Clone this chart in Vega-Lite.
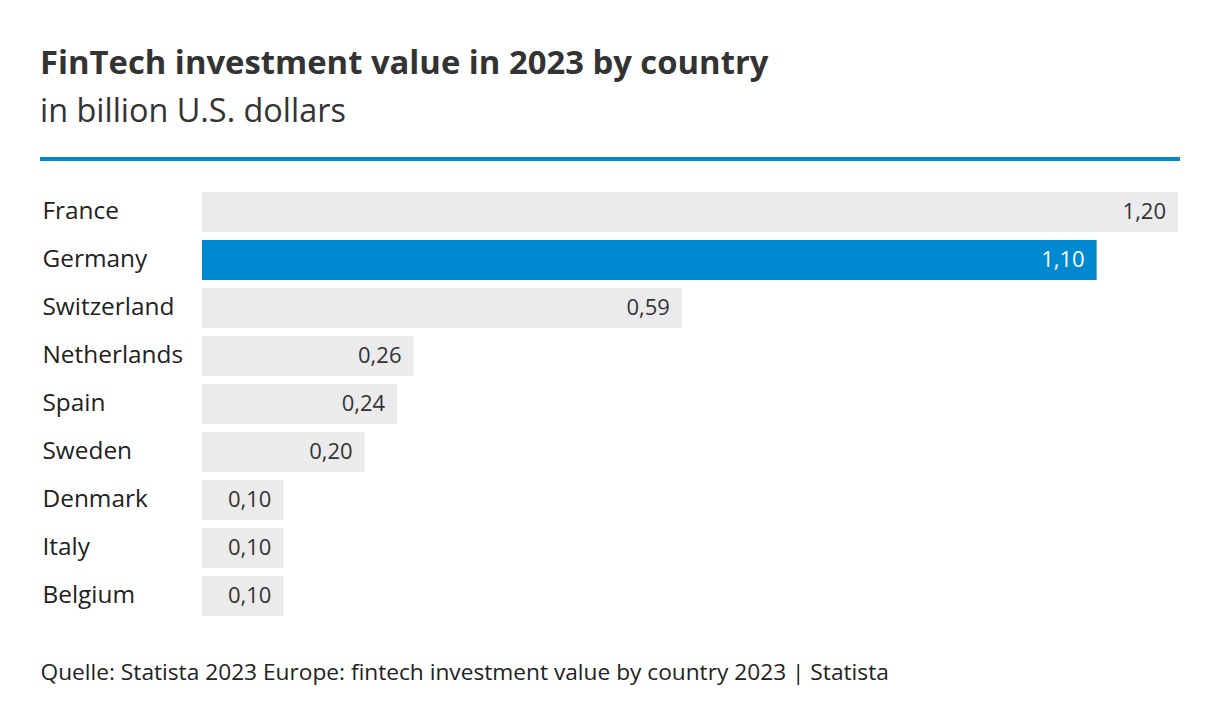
{
  "$schema": "https://vega.github.io/schema/vega-lite/v6.json",
  "autosize": "none",
  "padding": {"left": 40, "top": 159, "right": 40, "bottom": 79},
  "width": 1140,
  "height": 490,
  "background": "white",
  "title": {
    "text": "FinTech investment value in 2023 by country",
    "subtitle": "in billion U.S. dollars",
    "anchor": "start",
    "frame": "group",
    "font": "Open Sans",
    "fontSize": 32.8,
    "fontWeight": "bold",
    "color": "#333333",
    "subtitleFont": "Open Sans",
    "subtitleFontSize": 32.4,
    "subtitleColor": "#333333",
    "subtitlePadding": 15,
    "offset": 29
  },
  "data": {
    "values": [
      {"country": "France", "value": 1.2},
      {"country": "Germany", "value": 1.1},
      {"country": "Switzerland", "value": 0.59},
      {"country": "Netherlands", "value": 0.26},
      {"country": "Spain", "value": 0.24},
      {"country": "Sweden", "value": 0.2},
      {"country": "Denmark", "value": 0.1},
      {"country": "Italy", "value": 0.1},
      {"country": "Belgium", "value": 0.1}
    ]
  },
  "encoding": {
    "y": {
      "field": "country",
      "type": "nominal",
      "sort": null,
      "scale": {"paddingInner": 0.1667, "paddingOuter": 0.6875},
      "axis": {
        "title": null,
        "domain": false,
        "ticks": false,
        "labelAlign": "left",
        "labelPadding": -2,
        "labelFont": "Open Sans",
        "labelFontSize": 24.4,
        "labelColor": "#222222"
      }
    },
    "x": {
      "field": "value",
      "type": "quantitative",
      "scale": {"domain": [0, 1.2], "range": [162, 1138]},
      "axis": {
        "labels": false,
        "ticks": false,
        "domain": false,
        "grid": false,
        "title": "Quelle: Statista 2023 Europe: fintech investment value by country 2023 | Statista",
        "titleX": 0,
        "titleY": 30,
        "titleAlign": "left",
        "titleAnchor": null,
        "titleBaseline": "alphabetic",
        "titleFont": "Open Sans",
        "titleFontSize": 22.7,
        "titleFontWeight": "normal",
        "titleColor": "#222222"
      }
    }
  },
  "layer": [
    {
      "mark": {"type": "bar"},
      "encoding": {
        "color": {
          "condition": {"test": "datum.country === 'Germany'", "value": "#0088d1"},
          "value": "#ebebeb"
        }
      }
    },
    {
      "mark": {"type": "text", "align": "right", "dx": -12, "font": "Open Sans", "fontSize": 22, "baseline": "middle"},
      "encoding": {
        "text": {"field": "value", "type": "quantitative", "format": ".2f"},
        "color": {
          "condition": {"test": "datum.country === 'Germany'", "value": "#ffffff"},
          "value": "#333333"
        }
      }
    },
    {
      "mark": {"type": "rule", "color": "#0088d1", "strokeWidth": 3},
      "encoding": {"y": {"value": 0}, "x": {"value": 0}, "x2": {"value": 1140}}
    }
  ],
  "config": {
    "view": {"stroke": null},
    "locale": {
      "number": {"decimal": ",", "thousands": ".", "grouping": [3], "currency": ["", " €"]}
    }
  }
}
